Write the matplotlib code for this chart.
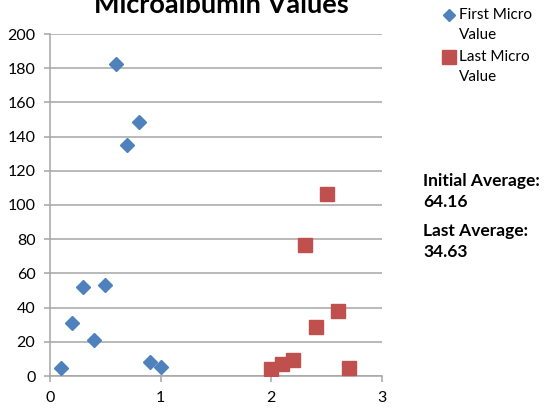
import matplotlib.pyplot as plt
from matplotlib.lines import Line2D

plt.rcParams['font.family'] = ['Lato', 'DejaVu Sans']

# first and last microalbumin readings, spread along x for display
first_x = [0.1, 0.2, 0.3, 0.4, 0.5, 0.6, 0.7, 0.8, 0.9, 1.0]
first_vals = [4.7, 31.0, 52.0, 21.0, 53.2, 182.5, 135.2, 148.5, 8.2, 5.3]
last_x = [2.0, 2.1, 2.2, 2.3, 2.4, 2.5, 2.6, 2.7]
last_vals = [4.0, 7.0, 9.4, 76.6, 28.7, 106.7, 38.0, 4.7]

initial_avg = "64.16"
last_avg = "34.63"

blue = '#4F81BD'
red = '#C0504D'
grid_c = '#A6A6A6'

fig = plt.figure(figsize=(5.45, 4.09), dpi=100)
ax = fig.add_axes([50/545, 33/409, 332/545, 342/409])

ax.plot(first_x, first_vals, 'D', color=blue, ms=7.5, mec=blue, zorder=3)
ax.plot(last_x, last_vals, 's', color=red, ms=9.5, mec=red, zorder=3)

ax.set_xlim(0, 3)
ax.set_ylim(0, 200)
ax.set_xticks([0, 1, 2, 3])
ax.set_yticks(range(0, 201, 20))
ax.yaxis.grid(True, color=grid_c, lw=1.1)
ax.set_axisbelow(True)
for s in ['top', 'right']:
    ax.spines[s].set_visible(False)
for s in ['left', 'bottom']:
    ax.spines[s].set_color(grid_c)
    ax.spines[s].set_linewidth(1.1)
ax.tick_params(axis='both', colors=grid_c, labelcolor='black', labelsize=11.5,
               length=4.5, width=1.1, pad=6)
ax.tick_params(axis='x', pad=6)

fig.text(221/545, 1 - 13/409, 'Microalbumin Values', ha='center', va='baseline',
         fontsize=19.5, fontweight='bold')

# legend drawn by hand so the markers sit on the first line of each label
fig.add_artist(Line2D([449/545], [1 - 15/409], marker='D', color=blue, ms=6,
                      transform=fig.transFigure))
fig.add_artist(Line2D([449/545], [1 - 57/409], marker='s', color=red, ms=9.5,
                      transform=fig.transFigure))
fig.text(459/545, 1 - 15/409, 'First Micro', va='center', fontsize=11)
fig.text(459/545, 1 - 35/409, 'Value', va='center', fontsize=11)
fig.text(459/545, 1 - 57/409, 'Last Micro', va='center', fontsize=11)
fig.text(459/545, 1 - 77/409, 'Value', va='center', fontsize=11)

fig.text(423/545, 1 - 181/409, 'Initial Average:', va='center', fontsize=12.5,
         fontweight='bold')
fig.text(423/545, 1 - 202/409, initial_avg, va='center', fontsize=12.5,
         fontweight='bold')
fig.text(423/545, 1 - 231/409, 'Last Average:', va='center', fontsize=12.5,
         fontweight='bold')
fig.text(423/545, 1 - 252/409, last_avg, va='center', fontsize=12.5,
         fontweight='bold')

fig.savefig('out.png', dpi=100)
